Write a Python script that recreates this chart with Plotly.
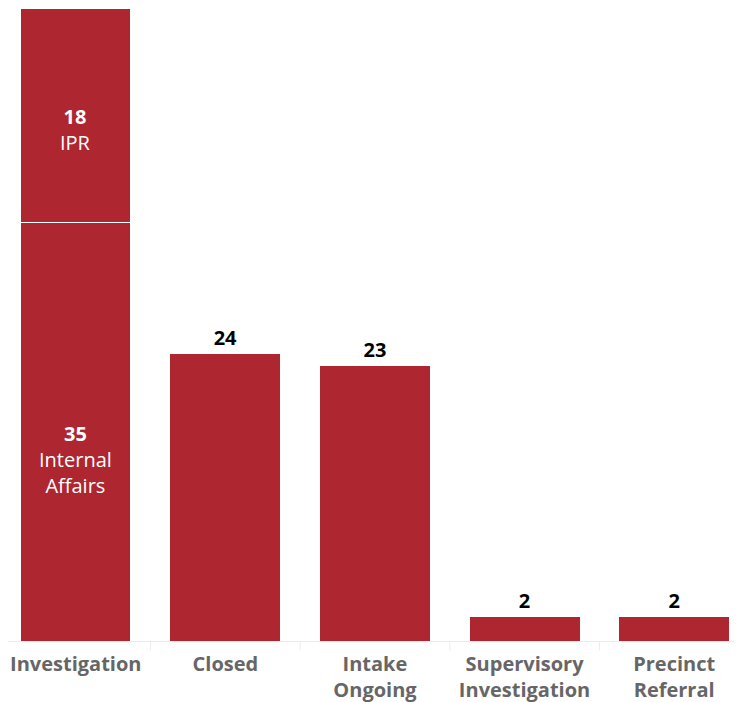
import plotly.graph_objects as go

# data
categories = ["Investigation", "Closed", "Intake Ongoing", "Supervisory Investigation", "Precinct Referral"]
tick_labels = ["Investigation", "Closed", "Intake<br>Ongoing", "Supervisory<br>Investigation", "Precinct<br>Referral"]
internal_affairs = [35, None, None, None, None]
ipr = [18, None, None, None, None]
other_counts = [None, 24, 23, 2, 2]

RED = "#ae2630"
FONT = "Open Sans"

fig = go.Figure()

# stacked pieces of the Investigation bar
fig.add_trace(go.Bar(
    x=categories, y=internal_affairs, name="Internal Affairs",
    marker=dict(color=RED, line=dict(color="white", width=1)),
    width=0.735, hoverinfo="skip",
))
fig.add_trace(go.Bar(
    x=categories, y=ipr, name="IPR",
    marker=dict(color=RED, line=dict(color="white", width=1)),
    width=0.735, hoverinfo="skip",
))
# the single bars, labelled above
fig.add_trace(go.Bar(
    x=categories, y=other_counts, name="Other",
    marker=dict(color=RED, line=dict(width=0)),
    width=0.735,
    text=[f"<b>{v}</b>" if v is not None else "" for v in other_counts],
    textposition="outside", cliponaxis=False,
    textfont=dict(family=FONT, size=20, color="black"),
    hoverinfo="skip",
))

# labels inside the stacked segments: number at the segment middle, name below
segments = [
    (0, internal_affairs[0], "Internal<br>Affairs"),
    (internal_affairs[0], ipr[0], "IPR"),
]
for base, val, name in segments:
    fig.add_annotation(
        x=categories[0], y=base + val / 2, yanchor="top", yshift=14,
        text=f"<b>{val}</b><br>{name}",
        showarrow=False, align="center",
        font=dict(family=FONT, size=20, color="white"),
    )

# category divider ticks below the axis
for i in range(len(categories)):
    fig.add_shape(
        type="line", xref="x", yref="paper",
        x0=i + 0.5, x1=i + 0.5, y0=0, y1=-0.015,
        line=dict(color="#ececec", width=1),
    )

# page body adds an 8px margin, so the figure is offset by it
fig.update_layout(
    width=726, height=694,
    margin=dict(l=0, r=0, t=0, b=61, autoexpand=False),
    plot_bgcolor="white", paper_bgcolor="white",
    barmode="stack", showlegend=False,
    font=dict(family=FONT),
)
fig.update_xaxes(
    range=[-0.453, 4.4], automargin=False,
    tickvals=categories, ticktext=tick_labels,
    tickfont=dict(family=FONT, size=20, color="#666666", weight="bold"),
    ticklabelstandoff=5,
    showgrid=False, showline=True, linecolor="#ececec", linewidth=1,
    ticks="", fixedrange=True,
)
fig.update_yaxes(
    range=[0, 53], showticklabels=False, showgrid=False, zeroline=False,
    showline=False, ticks="", fixedrange=True, automargin=False,
)

fig.write_html("out.html")
